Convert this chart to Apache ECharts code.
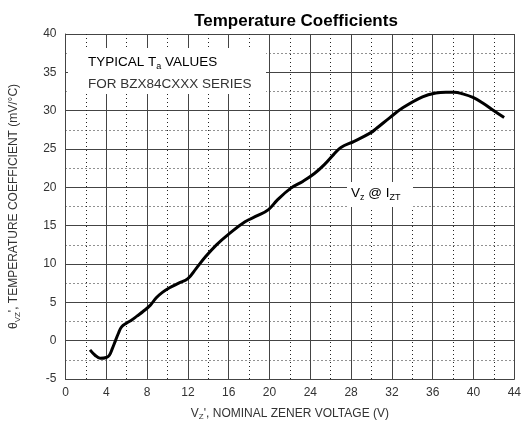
<!DOCTYPE html>
<html><head><meta charset="utf-8">
<script src="https://cdn.jsdelivr.net/npm/echarts@6/dist/echarts.min.js"></script>
<style>html,body{margin:0;padding:0;background:#fff}#c{width:524px;height:426px}</style>
</head><body><div id="c"></div>
<script>
const vz = [2.4,2.9,3.4,4.0,4.3,4.6,4.9,5.2,5.5,6.0,6.5,7.0,7.6,8.3,8.9,9.5,10.2,11.1,12.0,12.8,13.7,14.8,16.0,17.6,18.8,19.9,20.8,22.1,23.3,24.4,25.4,26.3,27.0,28.3,29.9,30.5,31.8,33.1,35.0,36.3,37.3,38.1,38.9,40.0,40.9,42.0,43.0];
const tc = [-1.2,-1.9,-2.3,-2.2,-1.9,-1.0,0.0,1.0,1.8,2.3,2.7,3.2,3.8,4.6,5.6,6.3,6.9,7.5,8.1,9.4,10.9,12.5,13.9,15.5,16.3,17.1,18.4,19.9,20.8,21.8,23.0,24.3,25.2,26.0,27.1,27.7,29.1,30.4,31.8,32.3,32.4,32.4,32.2,31.7,31.0,30.0,29.1];
const xTicks = [0,4,8,12,16,20,24,28,32,36,40,44];
const yTicks = [-5,0,5,10,15,20,25,30,35,40];
const titleText = 'Temperature Coefficients';

const font = 'Liberation Sans, Arial, sans-serif';
const chart = echarts.init(document.getElementById('c'), null, {renderer:'canvas'});
const sub = {fontSize: 8, fontFamily: font, color:'#333', padding:[7,0,0,0]};
const norm = {fontSize: 12, fontFamily: font, color:'#333'};
const nb = {fontSize: 13.5, fontFamily: font, color:'#333'};
const sb = {fontSize: 9, fontFamily: font, color:'#333', padding:[8,0,0,0]};
chart.setOption({
  animation:false,
  backgroundColor:'#fff',
  title:{text:titleText, left:291, textAlign:'center', top:8, textStyle:{fontFamily:font, fontSize:17, fontWeight:'bold', color:'#000'}},
  grid:{left:65, right:5, top:34, bottom:45},
  xAxis:{type:'value', min:xTicks[0], max:xTicks[xTicks.length-1], interval:4,
    axisLine:{show:true, onZero:false, lineStyle:{color:'#444', width:1}},
    axisTick:{show:false},
    axisLabel:{fontFamily:font, fontSize:12, color:'#333', margin:8},
    splitLine:{show:true, lineStyle:{color:'#444', width:1}},
    minorTick:{show:false, splitNumber:2},
    minorSplitLine:{show:true, lineStyle:{color:'#222', width:1, type:[1,3]}},
    name:'{n|V}{s|Z}{n|\', NOMINAL ZENER VOLTAGE (V)}', nameLocation:'middle', nameGap:27,
    nameTextStyle:{rich:{n:norm, s:sub}}
  },
  yAxis:{type:'value', min:yTicks[0], max:yTicks[yTicks.length-1], interval:5,
    axisLine:{show:true, onZero:false, lineStyle:{color:'#444', width:1}},
    axisTick:{show:false},
    axisLabel:{fontFamily:font, fontSize:12, color:'#333', margin:9},
    splitLine:{show:true, lineStyle:{color:'#444', width:1}},
    minorTick:{show:false, splitNumber:2},
    minorSplitLine:{show:true, lineStyle:{color:'#222', width:1, type:[1,3]}},
    name:'{n|θ}{s|VZ}{n|\', TEMPERATURE COEFFICIENT (mV/°C)}', nameLocation:'middle', nameGap:44, nameRotate:90,
    nameTextStyle:{rich:{n:norm, s:sub}}
  },
  graphic:[
    {type:'rect', shape:{x:68, y:48, width:198, height:46}, style:{fill:'#fff'}, z:10},
    {type:'text', x:88, y:54, z:11, style:{rich:{n:nb, s:sb}, text:'{n|TYPICAL T}{s|a}{n| VALUES}', fontFamily:font}},
    {type:'text', x:88, y:77, z:11, style:{text:'FOR BZX84CXXX SERIES', fontFamily:font, fontSize:13.5, fill:'#333'}},
    {type:'rect', shape:{x:347, y:182, width:66, height:25}, style:{fill:'#fff'}, z:10},
    {type:'text', x:351, y:185, z:11, style:{rich:{n:nb, s:sb}, text:'{n|V}{s|z}{n| @ I}{s|ZT}', fontFamily:font}}
  ],
  series:[{type:'line', data:vz.map((v,i)=>[v,tc[i]]), smooth:0.4, showSymbol:false,
    lineStyle:{color:'#000', width:3}, z:5}]
});
</script></body></html>
